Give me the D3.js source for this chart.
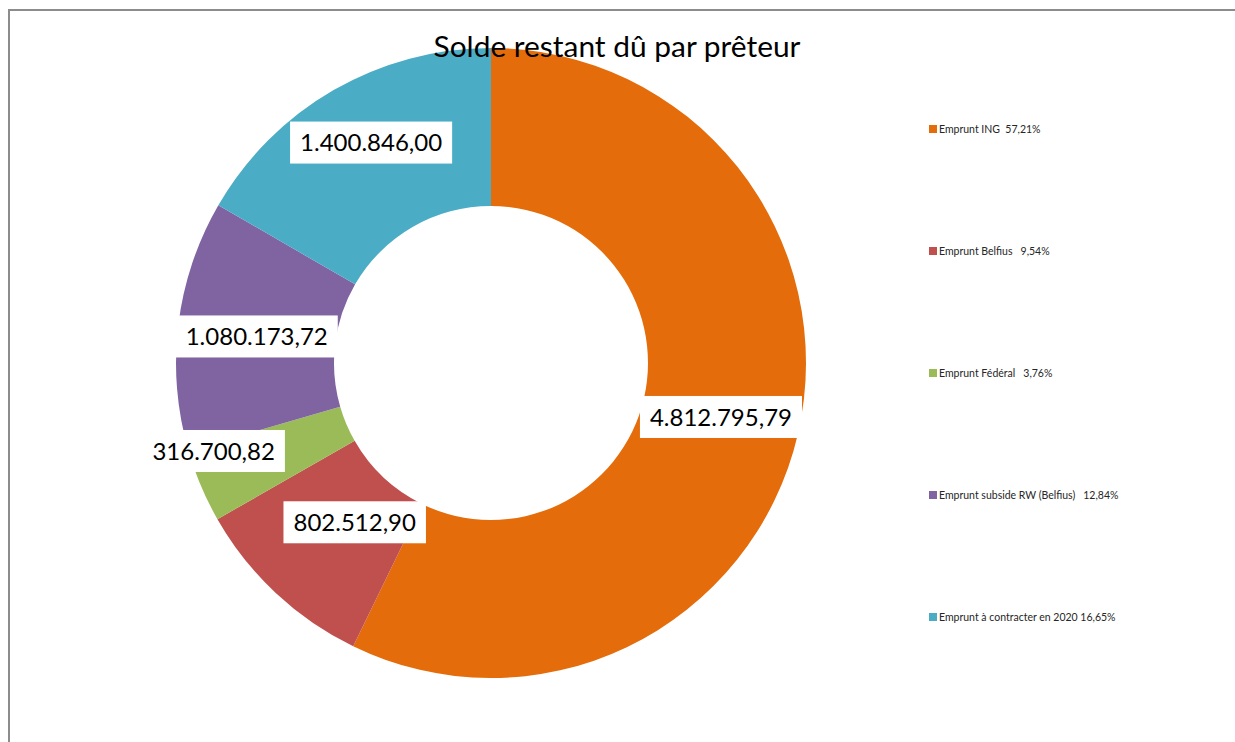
<!DOCTYPE html>
<html>
<head>
<meta charset="utf-8">
<script src="https://cdnjs.cloudflare.com/ajax/libs/d3/7.8.5/d3.min.js"></script>
<style>
  body { margin: 0; background: #fff; }
  svg { display: block; font-family: Lato, "Open Sans", sans-serif; }
</style>
</head>
<body>
<script>
// data
var lenders = ["Emprunt ING", "Emprunt Belfius", "Emprunt Fédéral", "Emprunt subside RW (Belfius)", "Emprunt à contracter en 2020"];
var balances = [4812795.79, 802512.90, 316700.82, 1080173.72, 1400846.00];
var shares = ["57,21%", "9,54%", "3,76%", "12,84%", "16,65%"];
var sliceColors = ["#E46C0A", "#C0504D", "#9BBB59", "#8064A2", "#4BACC6"];
var legendGaps = ["  ", "   ", "   ", "   ", " "];

var width = 1235, height = 742;
var cx = 491, cy = 363, outerR = 315, innerR = 157;

// small nudges, Excel moves some labels to avoid overlap
var labelNudge = [[0, 1], [25, -13], [-60, -4], [0, 2], [-2, -16]];

var svg = d3.select("body").append("svg")
    .attr("width", width)
    .attr("height", height)

// chart frame (only top and left edges are visible in the shot)
svg.append("path")
    .attr("d", "M9,742 V10 H1235")
    .attr("fill", "none")
    .attr("stroke", "#8c8c8c")
    .attr("stroke-width", 2)

var pie = d3.pie().sort(null).value(function (d) { return d; });
var arc = d3.arc().innerRadius(innerR).outerRadius(outerR);
var labelArc = d3.arc().innerRadius(236).outerRadius(236);

var arcs = pie(balances);

var g = svg.append("g")
    .attr("transform", "translate(" + cx + "," + cy + ")")

g.selectAll("path.slice")
    .data(arcs)
    .enter().append("path")
    .attr("class", "slice")
    .attr("d", arc)
    .attr("fill", function (d, i) { return sliceColors[i]; })

// title drawn over the donut, as in the reference
svg.append("text")
    .attr("x", 617)
    .attr("y", 57)
    .attr("text-anchor", "middle")
    .attr("font-size", 28)
    .attr("textLength", 367)
    .attr("lengthAdjust", "spacingAndGlyphs")
    .attr("fill", "#000")
    .text("Solde restant dû par prêteur")

var fmt = function (v) {
    var s = v.toFixed(2).split(".");
    return s[0].replace(/\B(?=(\d{3})+(?!\d))/g, ".") + "," + s[1];
};

var labels = g.selectAll("g.lbl")
    .data(arcs)
    .enter().append("g")
    .attr("class", "lbl")
    .attr("transform", function (d, i) {
        var c = labelArc.centroid(d);
        return "translate(" + (c[0] + labelNudge[i][0]) + "," + (c[1] + labelNudge[i][1]) + ")";
    })

labels.each(function (d, i) {
    var sel = d3.select(this);
    var txt = sel.append("text")
        .attr("text-anchor", "middle")
        .attr("dy", "0.36em")
        .attr("font-size", 24)
        .attr("fill", "#000")
        .text(fmt(balances[i]));
    var w = txt.node().getComputedTextLength();
    sel.insert("rect", "text")
        .attr("x", -w / 2 - 10)
        .attr("y", -21)
        .attr("width", w + 20)
        .attr("height", 42)
        .attr("fill", "#fff")
});

// legend
var legendY = d3.scalePoint()
    .domain(lenders)
    .range([129, 617])

var legend = svg.selectAll("g.legend")
    .data(lenders)
    .enter().append("g")
    .attr("class", "legend")
    .attr("transform", function (d) { return "translate(929," + legendY(d) + ")"; })

legend.append("rect")
    .attr("x", 0)
    .attr("y", -4)
    .attr("width", 8)
    .attr("height", 8)
    .attr("fill", function (d, i) { return sliceColors[i]; })

legend.append("text")
    .attr("x", 10)
    .attr("dy", "0.35em")
    .attr("font-size", 10.5)
    .attr("fill", "#262626")
    .attr("xml:space", "preserve")
    .text(function (d, i) { return d + legendGaps[i] + shares[i]; })
</script>
</body>
</html>
